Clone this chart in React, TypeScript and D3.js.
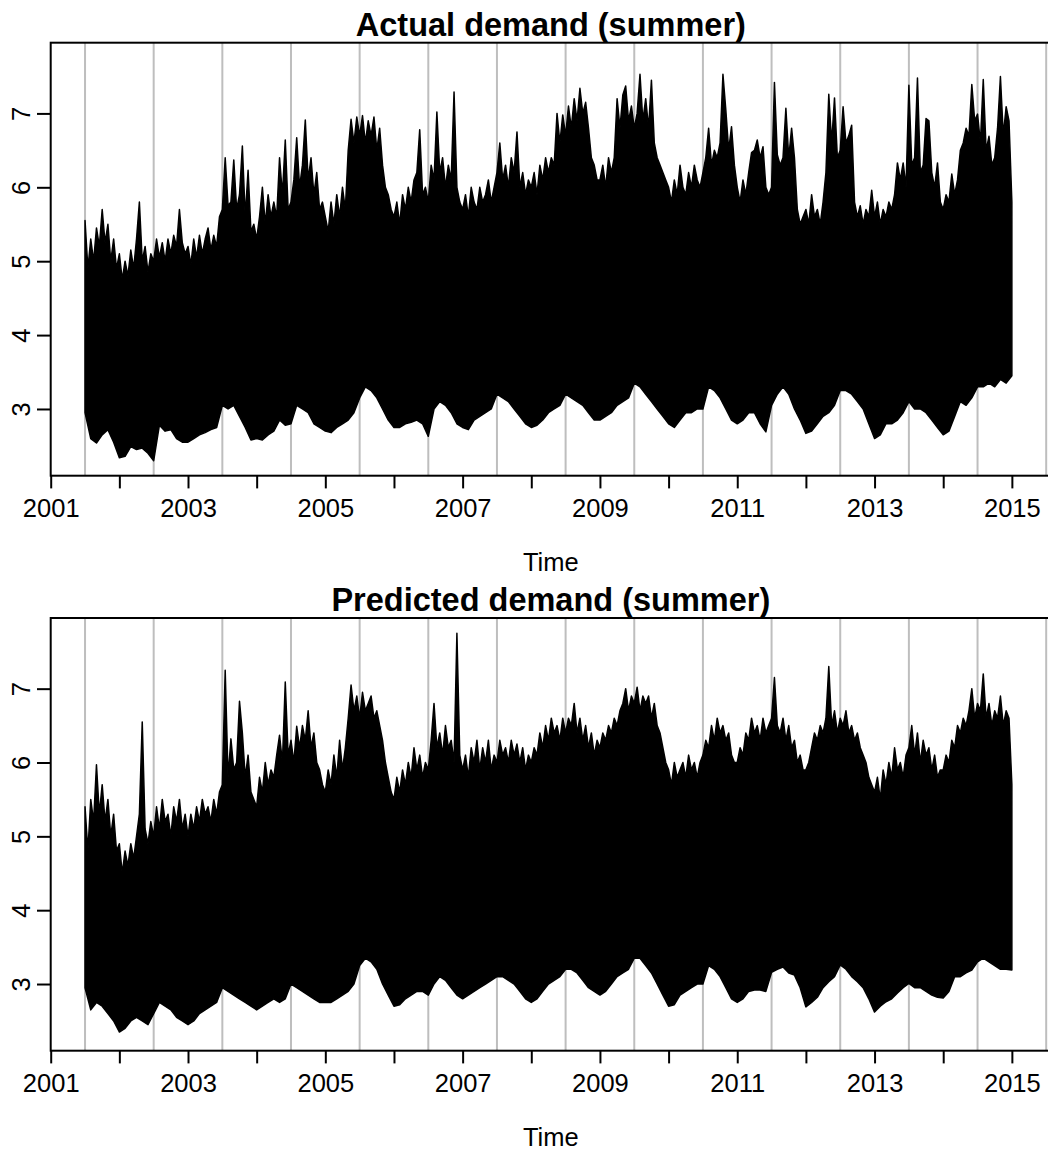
import { useRef, useEffect } from 'react'
import * as d3 from 'd3'

const WIDTH = 1048
const HEIGHT = 1151
const FONT = "'Liberation Sans', Arial, Helvetica, sans-serif"

// both series are regular: upper envelope every half month, lower envelope every month
const SERIES_START = 2001.5
const UPPER_PER_YEAR = 24
const LOWER_PER_YEAR = 12

const xTicks = [2001, 2002, 2003, 2004, 2005, 2006, 2007, 2008, 2009, 2010, 2011, 2012, 2013, 2014, 2015]
const xLabels = [2001, 2003, 2005, 2007, 2009, 2011, 2013, 2015]
const yTicks = [3, 4, 5, 6, 7]
const gridYears = [
  2001.5, 2002.5, 2003.5, 2004.5, 2005.5, 2006.5, 2007.5, 2008.5, 2009.5, 2010.5, 2011.5, 2012.5, 2013.5,
  2014.5, 2015.5,
]

// actual demand, half-monthly peaks (from 2001.5)
const actualUpper = [
  5.55, 4.9, 5.3, 5.0, 5.45, 5.2, 5.7, 5.25, 5.5, 5.0, 5.3, 4.9,
  5.1, 4.75, 5.0, 4.8, 5.15, 4.9, 5.3, 5.8, 5.0, 5.2, 4.85, 5.1, 5.0, 5.3, 5.05, 5.25, 5.0, 5.3, 5.1, 5.35, 5.2, 5.7, 5.25, 5.1,
  5.2, 4.95, 5.3, 5.05, 5.35, 5.1, 5.3, 5.45, 5.15, 5.35, 5.2, 5.6, 5.7, 6.4, 5.75, 5.8, 6.37, 5.7, 5.9, 6.56, 5.6, 6.23, 5.4, 5.5,
  5.3, 5.6, 6.0, 5.5, 5.9, 5.6, 5.8, 5.6, 6.4, 5.9, 6.64, 5.7, 5.8, 6.1, 6.67, 6.0, 6.3, 6.91, 6.1, 6.4, 5.9, 6.2, 5.7, 5.8,
  5.6, 5.4, 5.8, 5.5, 5.9, 5.6, 6.0, 5.7, 6.5, 6.92, 6.6, 6.95, 6.7, 6.97, 6.6, 6.9, 6.7, 6.95, 6.5, 6.8, 6.3, 6.0, 5.9, 5.7,
  5.6, 5.8, 5.5, 5.9, 5.7, 6.0, 5.8, 6.1, 6.2, 6.78, 5.9, 6.0, 5.8, 6.3, 6.1, 7.02, 6.2, 6.4, 6.0, 6.3, 6.1, 7.29, 6.0, 5.8,
  5.7, 5.9, 5.6, 6.0, 5.8, 5.7, 6.0, 5.8, 5.9, 6.1, 5.8, 6.0, 6.2, 6.6, 6.1, 6.3, 6.0, 6.4, 6.2, 6.75, 6.0, 6.2, 5.9, 6.1,
  6.0, 6.2, 5.9, 6.3, 6.1, 6.4, 6.2, 6.4, 6.3, 7.0, 6.6, 6.98, 6.7, 7.1, 6.8, 7.2, 6.9, 7.34, 7.0, 7.15, 6.8, 6.4, 6.3, 6.1,
  6.1, 6.3, 6.0, 6.4, 6.2, 6.4, 7.2, 6.8, 7.25, 7.37, 6.9, 7.1, 6.8, 7.0, 7.53, 6.9, 7.2, 6.8, 7.45, 6.6, 6.4, 6.3, 6.2, 6.1,
  6.0, 5.8, 6.1, 5.9, 6.3, 6.0, 5.9, 6.2, 6.0, 6.3, 6.1, 6.0, 6.2, 6.4, 6.8, 6.3, 6.5, 6.4, 6.6, 7.53, 7.05, 6.5, 6.82, 6.3,
  6.0, 5.8, 6.1, 5.9, 6.2, 6.47, 6.5, 6.64, 6.4, 6.55, 6.0, 5.9, 6.0, 7.42, 6.44, 6.3, 6.4, 7.07, 6.4, 6.8, 6.4, 5.7, 5.5, 5.6,
  5.7, 5.5, 5.9, 5.6, 5.7, 5.5, 5.8, 6.2, 7.26, 6.6, 7.21, 6.4, 6.5, 7.09, 6.6, 6.7, 6.84, 5.8, 5.6, 5.75, 5.5, 5.7, 5.6, 5.96,
  5.6, 5.8, 5.5, 5.7, 5.6, 5.8, 5.7, 5.9, 6.33, 6.1, 6.33, 6.0, 7.38, 6.3, 6.4, 7.48, 6.2, 6.3, 6.93, 6.9, 6.2, 6.0, 6.33, 5.8,
  5.7, 5.9, 5.8, 6.18, 5.9, 6.1, 6.5, 6.6, 6.8, 6.7, 7.39, 6.9, 6.99, 6.6, 7.46, 6.5, 6.69, 6.3, 6.4, 6.8, 7.5, 6.7, 7.09, 6.9,
  5.8,
]

// actual demand, monthly troughs (from 2001.5)
const actualLower = [
  2.95, 2.6, 2.54, 2.65, 2.72, 2.55,
  2.34, 2.36, 2.49, 2.45, 2.47, 2.4, 2.3, 2.78, 2.7, 2.72, 2.6, 2.55,
  2.55, 2.6, 2.65, 2.68, 2.72, 2.75, 3.05, 3.0, 3.05, 2.9, 2.75, 2.58,
  2.6, 2.58, 2.65, 2.7, 2.85, 2.78, 2.8, 3.05, 3.0, 2.95, 2.8, 2.75,
  2.7, 2.68, 2.75, 2.8, 2.85, 2.95, 3.15, 3.3, 3.25, 3.15, 3.0, 2.85,
  2.75, 2.75, 2.8, 2.82, 2.85, 2.8, 2.63, 3.0, 3.1, 3.05, 2.95, 2.8,
  2.75, 2.72, 2.85, 2.9, 2.95, 3.0, 3.2, 3.15, 3.1, 3.0, 2.9, 2.8,
  2.75, 2.78, 2.85, 2.95, 3.0, 3.05, 3.2, 3.15, 3.1, 3.05, 2.95, 2.85,
  2.85, 2.9, 2.95, 3.05, 3.1, 3.15, 3.35, 3.3, 3.2, 3.1, 3.0, 2.9,
  2.8, 2.75, 2.85, 2.95, 2.95, 3.0, 3.0, 3.3, 3.25, 3.15, 3.0, 2.85,
  2.8, 2.85, 2.95, 2.95, 2.8, 2.69, 3.05, 3.2, 3.3, 3.2, 3.0, 2.85,
  2.67, 2.7, 2.8, 2.9, 2.95, 3.05, 3.25, 3.25, 3.2, 3.1, 3.0, 2.8,
  2.6, 2.65, 2.8, 2.8, 2.85, 2.95, 3.1, 3.0, 3.0, 2.95, 2.85, 2.75,
  2.65, 2.7, 2.9, 3.1, 3.05, 3.15, 3.3, 3.3, 3.35, 3.3, 3.4, 3.35,
  3.45,
]

// predicted demand, half-monthly peaks (from 2001.5)
const predictedUpper = [
  5.4, 4.8, 5.5, 5.2, 5.97, 5.3, 5.7, 5.2, 5.5, 5.0, 5.3, 4.8,
  4.9, 4.5, 4.8, 4.6, 4.9, 4.7, 5.0, 5.3, 6.55, 5.1, 4.9, 5.2, 5.0, 5.4, 5.1, 5.5, 5.2, 5.3, 5.0, 5.4, 5.2, 5.5, 5.1, 5.3,
  5.0, 5.3, 5.1, 5.4, 5.2, 5.5, 5.3, 5.4, 5.2, 5.5, 5.3, 5.6, 5.7, 7.25, 5.8, 6.32, 5.9, 6.0, 6.83, 6.4, 5.8, 6.1, 5.6, 5.5,
  5.4, 5.8, 5.6, 6.0, 5.7, 5.9, 5.8, 6.1, 6.37, 6.0, 7.09, 6.1, 6.3, 6.0, 6.49, 6.2, 6.5, 6.3, 6.7, 6.2, 6.4, 6.0, 5.9, 5.7,
  5.6, 5.9, 5.7, 6.1, 5.8, 6.3, 5.9, 6.2, 6.6, 7.05, 6.7, 6.9, 6.6, 6.95, 6.7, 6.8, 6.9, 6.6, 6.7, 6.5, 6.3, 6.0, 5.8, 5.6,
  5.5, 5.8, 5.6, 5.9, 5.7, 6.0, 5.8, 6.2, 5.9, 6.1, 5.8, 6.0, 5.9, 6.3, 6.8, 6.2, 6.4, 6.1, 6.5, 6.2, 6.3, 6.0, 7.75, 6.1,
  5.9, 6.1, 5.8, 6.2, 6.0, 6.3, 5.9, 6.2, 6.0, 6.3, 5.9, 6.1, 6.0, 6.3, 6.1, 6.2, 6.0, 6.3, 6.1, 6.25, 6.0, 6.2, 5.9, 6.1,
  6.0, 6.2, 6.1, 6.4, 6.2, 6.5, 6.3, 6.6, 6.4, 6.5, 6.3, 6.6, 6.4, 6.6, 6.5, 6.8, 6.4, 6.6, 6.3, 6.5, 6.2, 6.4, 6.1, 6.3,
  6.2, 6.4, 6.3, 6.5, 6.4, 6.6, 6.5, 6.7, 6.8, 7.0, 6.7, 6.9, 6.8, 7.02, 6.7, 6.9, 6.8, 6.9, 6.6, 6.8, 6.5, 6.4, 6.2, 6.0,
  5.9, 5.7, 6.0, 5.8, 5.9, 6.0, 5.8, 6.1, 5.9, 6.0, 5.8, 6.0, 6.1, 6.3, 6.2, 6.5, 6.3, 6.6, 6.4, 6.5, 6.3, 6.4, 6.1, 6.0,
  6.0, 6.2, 6.1, 6.4, 6.3, 6.6, 6.4, 6.5, 6.3, 6.6, 6.4, 6.5, 6.6, 7.15, 6.5, 6.4, 6.6, 6.3, 6.5, 6.2, 6.3, 6.0, 6.1, 5.9,
  5.9, 6.0, 6.2, 6.4, 6.3, 6.5, 6.4, 6.6, 7.3, 6.5, 6.7, 6.4, 6.6, 6.5, 6.7, 6.4, 6.5, 6.3, 6.4, 6.2, 6.1, 6.0, 5.8, 5.7,
  5.6, 5.8, 5.5, 5.9, 5.7, 6.0, 5.8, 6.2, 5.9, 6.0, 5.8, 6.1, 6.2, 6.5, 6.1, 6.4, 6.0, 6.3, 6.1, 6.2, 5.9, 6.1, 5.8, 5.9,
  5.9, 6.1, 6.0, 6.3, 6.2, 6.5, 6.4, 6.6, 6.5, 6.7, 7.0, 6.6, 6.8, 6.7, 7.2, 6.6, 6.8, 6.5, 6.7, 6.6, 6.9, 6.5, 6.7, 6.6,
  5.7,
]

// predicted demand, monthly troughs (from 2001.5)
const predictedLower = [
  2.95, 2.65, 2.75, 2.7, 2.6, 2.5,
  2.35, 2.4, 2.5, 2.55, 2.5, 2.45, 2.6, 2.75, 2.7, 2.65, 2.55, 2.5,
  2.45, 2.5, 2.6, 2.65, 2.7, 2.75, 2.95, 2.9, 2.85, 2.8, 2.75, 2.7,
  2.65, 2.7, 2.75, 2.8, 2.75, 2.8, 3.0, 2.95, 2.9, 2.85, 2.8, 2.75,
  2.75, 2.75, 2.8, 2.85, 2.9, 3.0, 3.25, 3.35, 3.3, 3.2, 3.0, 2.85,
  2.7, 2.72, 2.8, 2.85, 2.9, 2.9, 2.85, 3.0, 3.1, 3.05, 2.95, 2.85,
  2.8, 2.85, 2.9, 2.95, 3.0, 3.05, 3.1, 3.1, 3.05, 3.0, 2.9, 2.8,
  2.75, 2.8, 2.9, 3.0, 3.05, 3.1, 3.2, 3.2, 3.15, 3.05, 2.95, 2.9,
  2.85, 2.9, 3.0, 3.1, 3.15, 3.2, 3.35, 3.35, 3.25, 3.15, 3.0, 2.85,
  2.7, 2.72, 2.85, 2.9, 2.95, 3.0, 3.0, 3.25, 3.2, 3.1, 2.95, 2.8,
  2.75, 2.8, 2.9, 2.92, 2.92, 2.9, 3.16, 3.2, 3.23, 3.15, 3.12, 2.95,
  2.69, 2.75, 2.82, 2.95, 3.03, 3.1, 3.26, 3.2, 3.1, 3.03, 2.95, 2.8,
  2.62, 2.7, 2.76, 2.8, 2.88, 2.95, 3.01, 2.95, 2.95, 2.9, 2.85, 2.82,
  2.81, 2.9, 3.1, 3.1, 3.15, 3.19, 3.3, 3.35, 3.3, 3.25, 3.2, 3.2,
  3.19,
]

const PANELS = [
  { title: 'Actual demand (summer)', upper: actualUpper, lower: actualLower, top: 42.7, bottom: 475.7 },
  { title: 'Predicted demand (summer)', upper: predictedUpper, lower: predictedLower, top: 618, bottom: 1050.7 },
]

const X_DOMAIN: [number, number] = [2001, 2015.57]
const Y_DOMAIN: [number, number] = [2.097, 7.957]
const PLOT_LEFT = 50.7
const PLOT_RIGHT = 1051

export default function App() {
  const svgRef = useRef<SVGSVGElement>(null)

  useEffect(() => {
    if (!svgRef.current) return
    const svg = d3.select(svgRef.current)
    svg.selectAll('*').remove()

    const x = d3.scaleLinear().domain(X_DOMAIN).range([PLOT_LEFT, PLOT_RIGHT])

    for (const panel of PANELS) {
      const y = d3.scaleLinear().domain(Y_DOMAIN).range([panel.bottom, panel.top])
      const g = svg.append('g')

      // grey year-middle lines
      g.selectAll('line.grid')
        .data(gridYears)
        .join('line')
        .attr('x1', (d) => x(d))
        .attr('x2', (d) => x(d))
        .attr('y1', panel.top)
        .attr('y2', panel.bottom)
        .attr('stroke', '#bebebe')
        .attr('stroke-width', 2)

      // demand band: peaks left to right, then troughs back
      const upperPts: [number, number][] = panel.upper.map((v, i) => [SERIES_START + i / UPPER_PER_YEAR, v])
      const lowerPts: [number, number][] = panel.lower.map((v, i) => [SERIES_START + i / LOWER_PER_YEAR, v])
      const pts = upperPts.concat(lowerPts.slice().reverse())
      const line = d3
        .line<[number, number]>()
        .x((d) => x(d[0]))
        .y((d) => y(d[1]))
      g.append('path')
        .attr('d', line(pts) + 'Z')
        .attr('fill', '#000')
        .attr('stroke', '#000')
        .attr('stroke-width', 1.5)
        .attr('stroke-linejoin', 'round')

      // box
      g.append('rect')
        .attr('x', PLOT_LEFT)
        .attr('y', panel.top)
        .attr('width', PLOT_RIGHT - PLOT_LEFT)
        .attr('height', panel.bottom - panel.top)
        .attr('fill', 'none')
        .attr('stroke', '#000')
        .attr('stroke-width', 2)

      // x axis
      g.append('g')
        .attr('transform', `translate(0,${panel.bottom})`)
        .call(
          d3
            .axisBottom(x)
            .tickValues(xTicks)
            .tickSize(12.7)
            .tickFormat((d) => (xLabels.includes(d as number) ? String(d) : '')),
        )
        .call((axis) => {
          axis.select('.domain').remove()
          axis.selectAll('.tick line').attr('stroke', '#000').attr('stroke-width', 2)
          axis
            .selectAll('.tick text')
            .attr('y', 41.5)
            .attr('dy', 0)
            .attr('fill', '#000')
            .style('font-family', FONT)
            .style('font-size', '25.5px')
        })

      // y axis
      g.append('g')
        .attr('transform', `translate(${PLOT_LEFT},0)`)
        .call(d3.axisLeft(y).tickValues(yTicks).tickSize(13.7).tickFormat((d) => String(d)))
        .call((axis) => {
          axis.select('.domain').remove()
          axis.selectAll('.tick line').attr('stroke', '#000').attr('stroke-width', 2)
          axis
            .selectAll('.tick text')
            .attr('x', 0)
            .attr('dy', 0)
            .attr('transform', 'translate(-20.7,0) rotate(-90)')
            .attr('text-anchor', 'middle')
            .attr('fill', '#000')
            .style('font-family', FONT)
            .style('font-size', '25.5px')
        })

      // title
      g.append('text')
        .attr('x', (PLOT_LEFT + PLOT_RIGHT) / 2)
        .attr('y', panel.top - 6.7)
        .attr('text-anchor', 'middle')
        .style('font-family', FONT)
        .style('font-size', '32.5px')
        .style('font-weight', 'bold')
        .text(panel.title)

      // x label
      g.append('text')
        .attr('x', (PLOT_LEFT + PLOT_RIGHT) / 2)
        .attr('y', panel.bottom + 95)
        .attr('text-anchor', 'middle')
        .style('font-family', FONT)
        .style('font-size', '25.5px')
        .text('Time')
    }
  }, [])

  return (
    <div style={{ position: 'absolute', left: 0, top: 0, width: WIDTH, height: HEIGHT, background: '#fff' }}>
      <svg ref={svgRef} width={WIDTH} height={HEIGHT} style={{ display: 'block' }} />
    </div>
  )
}
